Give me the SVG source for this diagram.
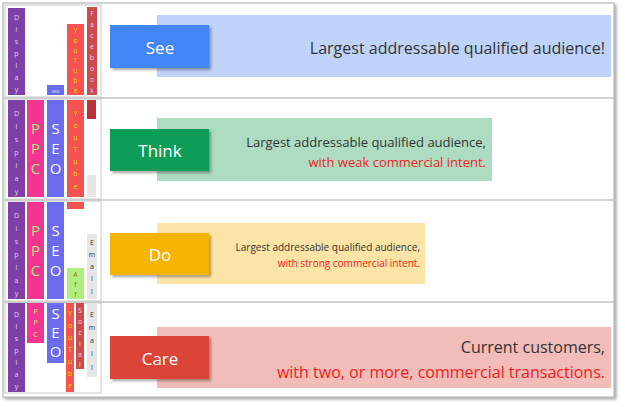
<svg xmlns="http://www.w3.org/2000/svg" width="625" height="407" viewBox="0 0 625 407">
<defs>
<filter id="sh" x="-10%" y="-10%" width="130%" height="130%"><feDropShadow dx="2" dy="2" stdDeviation="1.5" flood-color="#000" flood-opacity="0.35"/></filter>
</defs>
<style>
text{font-family:"Open Sans","DejaVu Sans",sans-serif}
.v{font-size:7px;text-anchor:middle}
.big{font-size:15px;text-anchor:middle}
.lab{font-size:17px;fill:#fff;text-anchor:middle}
.desc{fill:#333;text-anchor:end}
.red{fill:#f21c1c;text-anchor:end}
.cell{fill:#fff;stroke:#c8c8c8;stroke-width:1}
</style>
<rect x="0" y="0" width="625" height="407" fill="#fff"/>
<rect x="3" y="3" width="611" height="394" fill="#fff" stroke="#aaa" stroke-width="1" filter="url(#sh)"/>
<g id="separators" stroke="#c4c4c4" stroke-width="1.5">
<line x1="3" y1="98" x2="614" y2="98"/>
<line x1="3" y1="200" x2="614" y2="200"/>
<line x1="3" y1="302" x2="614" y2="302"/>
</g>
<g id="connectors"></g>
<g id="grid">
<rect class="cell" x="5" y="5" width="96" height="92"/>
<rect class="cell" x="5" y="99" width="96" height="100"/>
<rect class="cell" x="5" y="201" width="96" height="100"/>
<rect class="cell" x="5" y="303" width="96" height="90"/>
</g>
<g id="row-see-channels">
<rect x="8" y="8" width="17" height="87" fill="#7e3fa6"/>
<text class="v" fill="#e0d0f0" font-size="8"><tspan x="16.5" y="20">D</tspan><tspan x="16.5" y="32">i</tspan><tspan x="16.5" y="44">s</tspan><tspan x="16.5" y="56">p</tspan><tspan x="16.5" y="68">l</tspan><tspan x="16.5" y="80">a</tspan><tspan x="16.5" y="92">y</tspan></text>
<rect x="47" y="85" width="17" height="10" fill="#6b6bf0"/>
<text x="55.5" y="93" font-size="5" text-anchor="middle" fill="#dde">seo</text>
<rect x="67" y="24" width="17" height="71" fill="#f4534f"/>
<text class="v" fill="#ffd000"><tspan x="75.5" y="33">Y</tspan><tspan x="75.5" y="43">o</tspan><tspan x="75.5" y="53">u</tspan><tspan x="75.5" y="63">T</tspan><tspan x="75.5" y="73">u</tspan><tspan x="75.5" y="83">b</tspan><tspan x="75.5" y="93">e</tspan></text>
<rect x="87" y="7" width="10" height="88" fill="#cc4c4c"/>
<text class="v" fill="#fbe"><tspan x="92" y="16">F</tspan><tspan x="92" y="27">a</tspan><tspan x="92" y="38">c</tspan><tspan x="92" y="49">e</tspan><tspan x="92" y="60">b</tspan><tspan x="92" y="71">o</tspan><tspan x="92" y="82">o</tspan><tspan x="92" y="93">k</tspan></text>
</g>
<g id="row-think-channels">
<rect x="8" y="100" width="17" height="97" fill="#7e3fa6"/>
<text class="v" fill="#e0d0f0" font-size="8"><tspan x="16.5" y="116">D</tspan><tspan x="16.5" y="129">i</tspan><tspan x="16.5" y="142">s</tspan><tspan x="16.5" y="155">p</tspan><tspan x="16.5" y="168">l</tspan><tspan x="16.5" y="181">a</tspan><tspan x="16.5" y="194">y</tspan></text>
<rect x="27" y="100" width="17" height="97" fill="#f23590"/>
<text class="big" fill="#9ef07a"><tspan x="35.5" y="134">P</tspan><tspan x="35.5" y="154">P</tspan><tspan x="35.5" y="174">C</tspan></text>
<rect x="47" y="100" width="17" height="97" fill="#6b6bf0"/>
<text class="big" fill="#fff"><tspan x="55.5" y="134">S</tspan><tspan x="55.5" y="154">E</tspan><tspan x="55.5" y="174">O</tspan></text>
<rect x="67" y="100" width="17" height="97" fill="#f4534f"/>
<text class="v" fill="#ffd000" font-size="8"><tspan x="75.5" y="116">Y</tspan><tspan x="75.5" y="128">o</tspan><tspan x="75.5" y="140">u</tspan><tspan x="75.5" y="152">T</tspan><tspan x="75.5" y="164">u</tspan><tspan x="75.5" y="176">b</tspan><tspan x="75.5" y="189">e</tspan></text>
<rect x="87" y="100" width="9" height="19" fill="#c0303a"/>
<rect x="87" y="175" width="9" height="22" fill="#e6e6e6"/>
</g>
<g id="row-do-channels">
<rect x="8" y="202" width="17" height="97" fill="#7e3fa6"/>
<text class="v" fill="#e0d0f0" font-size="8"><tspan x="16.5" y="218">D</tspan><tspan x="16.5" y="231">i</tspan><tspan x="16.5" y="244">s</tspan><tspan x="16.5" y="257">p</tspan><tspan x="16.5" y="270">l</tspan><tspan x="16.5" y="283">a</tspan><tspan x="16.5" y="296">y</tspan></text>
<rect x="27" y="202" width="17" height="97" fill="#f23590"/>
<text class="big" fill="#9ef07a"><tspan x="35.5" y="236">P</tspan><tspan x="35.5" y="256">P</tspan><tspan x="35.5" y="276">C</tspan></text>
<rect x="47" y="202" width="17" height="97" fill="#6b6bf0"/>
<text class="big" fill="#fff"><tspan x="55.5" y="236">S</tspan><tspan x="55.5" y="256">E</tspan><tspan x="55.5" y="276">O</tspan></text>
<rect x="67" y="202" width="17" height="7" fill="#f4534f"/>
<rect x="67" y="268" width="17" height="31" fill="#b0f080"/>
<text class="v" fill="#8a7a00"><tspan x="75.5" y="277">A</tspan><tspan x="75.5" y="287">f</tspan><tspan x="75.5" y="297">f</tspan></text>
<rect x="87" y="234" width="10" height="65" fill="#e6e6e6"/>
<text class="v" fill="#333" font-size="8"><tspan x="92" y="245">E</tspan><tspan x="92" y="257">m</tspan><tspan x="92" y="269">a</tspan><tspan x="92" y="281">i</tspan><tspan x="92" y="294">l</tspan></text>
</g>
<g id="row-care-channels">
<rect x="8" y="303" width="17" height="89" fill="#7e3fa6"/>
<text class="v" fill="#e0d0f0" font-size="8"><tspan x="16.5" y="317">D</tspan><tspan x="16.5" y="329">i</tspan><tspan x="16.5" y="341">s</tspan><tspan x="16.5" y="353">p</tspan><tspan x="16.5" y="365">l</tspan><tspan x="16.5" y="377">a</tspan><tspan x="16.5" y="389">y</tspan></text>
<rect x="27" y="303" width="17" height="40" fill="#f23590"/>
<text font-size="7" text-anchor="middle" fill="#d6e87a"><tspan x="35.5" y="314">P</tspan><tspan x="35.5" y="325">P</tspan><tspan x="35.5" y="337">C</tspan></text>
<rect x="47" y="303" width="17" height="60" fill="#6b6bf0"/>
<text class="big" fill="#fff" font-size="11"><tspan x="55.5" y="319">S</tspan><tspan x="55.5" y="338">E</tspan><tspan x="55.5" y="357">O</tspan></text>
<rect x="66" y="303" width="8" height="89" fill="#f4534f"/>
<text font-size="7" text-anchor="middle" fill="#ffd000"><tspan x="70" y="316">Y</tspan><tspan x="70" y="328">o</tspan><tspan x="70" y="340">u</tspan><tspan x="70" y="352">T</tspan><tspan x="70" y="364">u</tspan><tspan x="70" y="376">b</tspan><tspan x="70" y="388">e</tspan></text>
<rect x="76" y="303" width="8" height="66" fill="#cc4c4c"/>
<text font-size="7" text-anchor="middle" fill="#fcd"><tspan x="80" y="313">S</tspan><tspan x="80" y="324">o</tspan><tspan x="80" y="335">c</tspan><tspan x="80" y="346">i</tspan><tspan x="80" y="357">a</tspan><tspan x="80" y="367">l</tspan></text>
<rect x="87" y="303" width="10" height="74" fill="#e6e6e6"/>
<text class="v" fill="#333" font-size="9"><tspan x="92" y="317">E</tspan><tspan x="92" y="330">m</tspan><tspan x="92" y="343">a</tspan><tspan x="92" y="356">i</tspan><tspan x="92" y="370">l</tspan></text>
</g>
<g id="see">
<rect x="157" y="15" width="454" height="62" fill="#bfd3f8"/>
<rect x="110" y="25" width="99" height="43" fill="#4285f4" filter="url(#sh)"/>
<text class="lab" x="160" y="54">See</text>
<text class="desc" x="605" y="54" font-size="16">Largest addressable qualified audience!</text>
</g>
<g id="think">
<rect x="157" y="118" width="335" height="63" fill="#addcc2"/>
<rect x="110" y="129" width="99" height="42" fill="#0f9d58" filter="url(#sh)"/>
<text class="lab" x="160" y="157">Think</text>
<text class="desc" x="486" y="147" font-size="13">Largest addressable qualified audience,</text>
<text class="red" x="486" y="167" font-size="13">with weak commercial intent.</text>
</g>
<g id="do">
<rect x="157" y="223" width="268" height="61" fill="#fbe4a6"/>
<rect x="110" y="233" width="99" height="42" fill="#f4b400" filter="url(#sh)"/>
<text class="lab" x="160" y="261">Do</text>
<text class="desc" x="420" y="251" font-size="10">Largest addressable qualified audience,</text>
<text class="red" x="420" y="267" font-size="10">with strong commercial intent.</text>
</g>
<g id="care">
<rect x="157" y="327" width="454" height="61" fill="#f2bdb8"/>
<rect x="110" y="336" width="99" height="43" fill="#db4437" filter="url(#sh)"/>
<text class="lab" x="160" y="365">Care</text>
<text class="desc" x="605" y="353" font-size="16">Current customers,</text>
<text class="red" x="605" y="378" font-size="16">with two, or more, commercial transactions.</text>
</g>
</svg>
